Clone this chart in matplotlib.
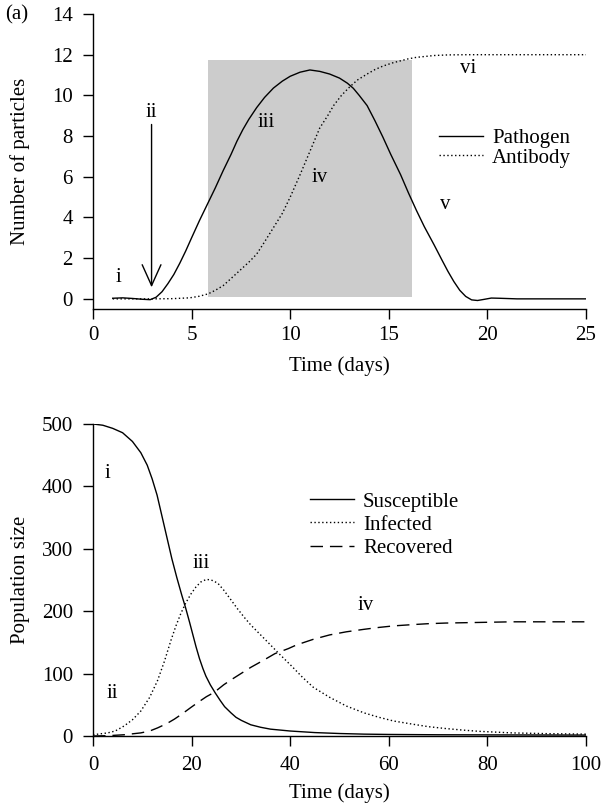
import matplotlib
matplotlib.use("Agg")
import matplotlib.pyplot as plt
from matplotlib.patches import Rectangle

plt.rcParams['font.family'] = ['Liberation Serif', 'DejaVu Serif']
plt.rcParams['font.size'] = 15

# ---------------- Panel (a): within-host dynamics ----------------
path_t = [1.0, 1.5, 2.0, 2.5, 2.9, 3.2, 3.5, 3.8, 4.1, 4.4, 4.7, 5.0, 5.4, 5.8,
          6.2, 6.6, 7.0, 7.3, 7.6, 7.9, 8.3, 8.7, 9.15, 9.6, 10.0, 10.5, 11.0,
          11.5, 12.0, 12.5, 12.9, 13.2, 13.5, 13.9, 14.3, 14.7, 15.1, 15.6,
          16.0, 16.4, 16.8, 17.3, 17.7, 18.0, 18.3, 18.6, 18.9, 19.2, 19.5,
          19.8, 20.2, 20.6, 21.5, 23.0, 25.0]
path_v = [0.03, 0.05, 0.02, -0.02, -0.04, 0.08, 0.35, 0.75, 1.2, 1.75, 2.35,
          3.0, 3.85, 4.65, 5.45, 6.3, 7.1, 7.75, 8.32, 8.82, 9.4, 9.9, 10.36,
          10.7, 10.94, 11.14, 11.25, 11.18, 11.05, 10.85, 10.6, 10.35, 10.0,
          9.5, 8.75, 7.95, 7.1, 6.1, 5.2, 4.35, 3.55, 2.65, 1.9, 1.35, 0.85,
          0.42, 0.12, -0.05, -0.08, -0.03, 0.04, 0.03, 0.0, 0.0, 0.0]

anti_t = [1.0, 3.0, 4.0, 4.9, 5.4, 5.85, 6.2, 6.6, 7.0, 7.45, 7.9, 8.3, 8.7,
          9.15, 9.6, 10.0, 10.5, 11.0, 11.5, 11.9, 12.2, 12.6, 13.0, 13.4,
          13.9, 14.3, 14.7, 15.2, 15.6, 16.0, 16.4, 17.3, 18.0, 19.0, 25.0]
anti_v = [0.0, 0.0, 0.01, 0.05, 0.13, 0.25, 0.42, 0.65, 1.0, 1.4, 1.8, 2.2,
          2.8, 3.5, 4.2, 5.0, 6.1, 7.25, 8.4, 9.0, 9.5, 10.0, 10.4, 10.75,
          11.05, 11.27, 11.44, 11.6, 11.7, 11.8, 11.87, 11.96, 11.99, 12.0, 12.0]

shade_t = [5.85, 16.2]
shade_v = [0.08, 11.72]

arrow_t = 2.97
arrow_from, arrow_to = 8.57, 0.57

top_labels = ['i', 'ii', 'iii', 'iv', 'v', 'vi']
top_lab_t = [1.28, 2.97, 8.8, 11.5, 17.85, 19.0]
top_lab_v = [1.06, 9.14, 8.65, 5.96, 4.64, 11.3]

top_xticks = [0, 5, 10, 15, 20, 25]
top_yticks = [0, 2, 4, 6, 8, 10, 12, 14]

# ---------------- Panel (b): SIR population dynamics ----------------
S_t = [0, 2, 4, 6, 8, 9.7, 11, 12, 13, 14, 15, 16, 17, 18, 18.8, 19.6, 20.3,
       20.9, 21.6, 22.3, 22.9, 23.8, 24.8, 25.8, 26.7, 28, 29, 30.1, 32, 34,
       36, 40, 45, 50, 55, 60, 70, 80, 100]
S_v = [500, 498, 493, 486, 472, 454, 434, 412, 386, 352, 318, 284, 254, 226,
       205, 182, 161, 143, 124, 108, 96, 82, 69, 57, 47, 37, 30, 25, 18, 14,
       11, 8, 5.5, 4, 3, 2.5, 2, 1.8, 1.5]

I_t = [0, 2, 3, 4.5, 6.3, 8, 9.7, 11.5, 13.1, 14.5, 15.8, 16.8, 17.8, 18.8,
       19.9, 20.9, 21.9, 23.0, 24.0, 25.3, 26.5, 28, 29.3, 30.7, 32, 33.5,
       35.5, 37.6, 40.3, 42.5, 44.7, 48, 51.4, 55, 58, 61, 64.8, 68, 71.5,
       75, 78.3, 85, 92, 100]
I_v = [2, 4, 5, 8, 16, 26, 40, 62, 89, 120, 153, 176, 196, 213, 228, 239, 247,
       251, 250, 245, 234, 218, 204, 190, 178, 166, 150, 133, 112, 94, 78,
       62, 48, 37, 30, 24, 19, 15, 12, 9.5, 7.5, 5, 3.8, 3]

R_t = [0, 3, 6.3, 9.7, 11.5, 13.1, 15, 16.5, 18, 19.9, 21.5, 23, 24.6, 26.5,
       28, 30, 32, 34.5, 36.9, 39.6, 41.3, 44.7, 48, 51.4, 55, 58, 61, 64.8,
       68, 71.5, 78.3, 85, 100]
R_v = [0, 0.5, 2, 5, 8, 13, 20, 27, 35, 46, 55, 63, 70, 82, 90, 100, 110, 121,
       132, 140, 146, 155, 162, 167, 171, 174, 176.5, 178.5, 180, 181, 182,
       183, 183]

bot_labels = ['i', 'ii', 'iii', 'iv']
bot_lab_t = [3.0, 3.85, 21.9, 55.4]
bot_lab_v = [420, 68, 277, 209]

bot_xticks = [0, 20, 40, 60, 80, 100]
bot_yticks = [0, 100, 200, 300, 400, 500]

# ---------------- Figure ----------------
fig = plt.figure(figsize=(6.07, 8.05), dpi=100)
ax1 = fig.add_axes([0.1532, 0.6161, 0.8122, 0.3665])
ax2 = fig.add_axes([0.1532, 0.0857, 0.8122, 0.3876])

LW = 1.0
dot = (0, (1, 1.8))
dash = (0, (9, 5))

def style(ax):
    for s in ['top', 'right']:
        ax.spines[s].set_visible(False)
    for s in ['left', 'bottom']:
        ax.spines[s].set_linewidth(1.0)
    ax.tick_params(direction='out', length=7.5, width=1.0, labelsize=15)
    ax.tick_params(axis='y', pad=7)
    ax.tick_params(axis='x', pad=5)

# Panel (a)
ax1.add_patch(Rectangle((shade_t[0], shade_v[0]), shade_t[1] - shade_t[0],
                        shade_v[1] - shade_v[0], facecolor='#cccccc',
                        edgecolor='none', zorder=0))
ax1.plot(path_t, path_v, color='black', lw=LW, ls='-', label='Pathogen')
ax1.plot(anti_t, anti_v, color='black', lw=LW, ls=dot, label='Antibody')
ax1.annotate('', xy=(arrow_t, arrow_to), xytext=(arrow_t, arrow_from),
             arrowprops=dict(arrowstyle='->, head_length=1.0, head_width=0.45',
                             color='black', lw=1.0, shrinkA=0, shrinkB=0,
                             mutation_scale=15))
for lab, x, y in zip(top_labels, top_lab_t, top_lab_v):
    ax1.text(x, y, lab, ha='center', va='center', fontsize=15)
ax1.set_xlim(0, 25)
ax1.set_ylim(-0.5, 14)
ax1.set_xticks(top_xticks)
ax1.set_yticks(top_yticks)
style(ax1)
ax1.set_xlabel('Time (days)', fontsize=15)
ax1.set_ylabel('Number of particles', fontsize=15)
ax1.xaxis.set_label_coords(0.5, -0.16)
ax1.yaxis.set_label_coords(-0.127, 0.5)
ax1.legend(loc='upper left', bbox_to_anchor=(0.702, 0.612), frameon=False,
           fontsize=15, handlelength=2.1, handletextpad=0.45,
           labelspacing=0.0, borderpad=0, borderaxespad=0)
fig.text(0.028, 0.981, '(a)', ha='center', va='center', fontsize=15)

# Panel (b)
ax2.plot(S_t, S_v, color='black', lw=LW, ls='-', label='Susceptible')
ax2.plot(I_t, I_v, color='black', lw=LW, ls=dot, label='Infected')
ax2.plot(R_t, R_v, color='black', lw=LW, ls=dash, label='Recovered')
for lab, x, y in zip(bot_labels, bot_lab_t, bot_lab_v):
    ax2.text(x, y, lab, ha='center', va='center', fontsize=15)
ax2.set_xlim(0, 100)
ax2.set_ylim(0, 500)
ax2.set_xticks(bot_xticks)
ax2.set_yticks(bot_yticks)
style(ax2)
ax2.tick_params(axis='x', pad=7)
ax2.set_xlabel('Time (days)', fontsize=15)
ax2.set_ylabel('Population size', fontsize=15)
ax2.xaxis.set_label_coords(0.5, -0.152)
ax2.yaxis.set_label_coords(-0.127, 0.5)
ax2.legend(loc='upper left', bbox_to_anchor=(0.44, 0.782), frameon=False,
           fontsize=15, handlelength=2.1, handletextpad=0.45,
           labelspacing=0.17, borderpad=0, borderaxespad=0)

fig.savefig('out.png', dpi=100)
